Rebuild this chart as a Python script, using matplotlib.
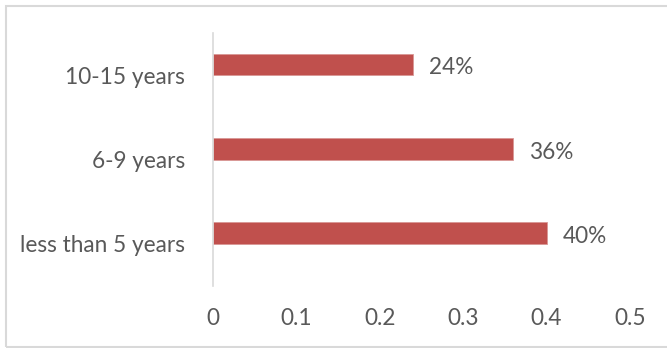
import matplotlib
matplotlib.use("Agg")
import matplotlib.pyplot as plt
from matplotlib.patches import Rectangle

# experience groups, bottom to top
categories = ["less than 5 years", "6-9 years", "10-15 years"]
shares = [0.40, 0.36, 0.24]
bar_labels = ["40%", "36%", "24%"]
xticks = [0, 0.1, 0.2, 0.3, 0.4, 0.5]
xtick_labels = ["0", "0.1", "0.2", "0.3", "0.4", "0.5"]

text_color = "#595959"
bar_color = "#C0504D"
line_color = "#D9D9D9"
fs = 16.3

plt.rcParams["font.family"] = ["Lato", "DejaVu Sans"]

fig = plt.figure(figsize=(6.67, 3.48), dpi=100)
ax = fig.add_axes([213 / 667, 1 - 286 / 348, 417 / 667, 253 / 348])

pos = list(range(len(categories)))
# bars sit above the category centre (second, empty series slot below)
shift = 0.125
bar_pos = [p + shift for p in pos]
ax.barh(bar_pos, shares, height=0.257, color=bar_color, edgecolor="#D99795", linewidth=0.6)

for y, v, lab in zip(bar_pos, shares, bar_labels):
    ax.text(v + 0.019, y - 0.04, lab, va="center", ha="left", fontsize=fs, color=text_color)

ax.set_xlim(0, 0.5)
ax.set_ylim(-0.5, 2.5)
ax.set_yticks(pos)
ax.set_yticklabels(categories)
ax.set_xticks(xticks)
ax.set_xticklabels(xtick_labels)
ax.tick_params(axis="both", length=0, labelsize=fs, labelcolor=text_color)
ax.tick_params(axis="y", pad=20)
ax.tick_params(axis="x", pad=16)
for t in ax.get_yticklabels():
    t.set_va("center_baseline")

for side in ["top", "right", "bottom"]:
    ax.spines[side].set_visible(False)
ax.spines["left"].set_color(line_color)
ax.spines["left"].set_linewidth(1.2)

# chart frame
fig.patches.append(Rectangle((6 / 667, 1.5 / 348), 665 / 667, 341 / 348,
                             transform=fig.transFigure, fill=False,
                             edgecolor=line_color, linewidth=1.5))

fig.savefig("out.png", dpi=100)
